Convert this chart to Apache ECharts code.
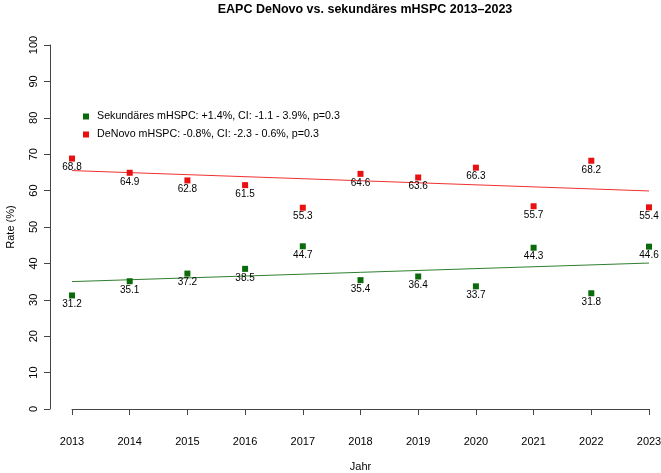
<!DOCTYPE html>
<html>
<head>
<meta charset="utf-8">
<script src="https://cdn.jsdelivr.net/npm/echarts@6/dist/echarts.min.js"></script>
<style>
html,body{margin:0;padding:0;background:#fff;}
#chart{width:661px;height:473px;}
</style>
</head>
<body>
<div id="chart"></div>
<script>
// ---- data ----
const years = [2013, 2014, 2015, 2016, 2017, 2018, 2019, 2020, 2021, 2022, 2023];
const sekundaer = [31.2, 35.1, 37.2, 38.5, 44.7, 35.4, 36.4, 33.7, 44.3, 31.8, 44.6];
const denovo = [68.8, 64.9, 62.8, 61.5, 55.3, 64.6, 63.6, 66.3, 55.7, 68.2, 55.4];
const trendYears = [2013, 2023];
const trendSekundaer = [35.0, 40.1];
const trendDenovo = [65.5, 59.9];
const yTicks = [0, 10, 20, 30, 40, 50, 60, 70, 80, 90, 100];
const nameSek = 'Sekundäres mHSPC: +1.4%, CI: -1.1 - 3.9%, p=0.3';
const nameDeN = 'DeNovo mHSPC: -0.8%, CI: -2.3 - 0.6%, p=0.3';

const green = '#0b6b0b';
const red = '#e81010';
const font = 'Liberation Sans, Arial, Helvetica, sans-serif';

const zip = (xs, ys) => xs.map((x, i) => [x, ys[i]]);

const chart = echarts.init(document.getElementById('chart'), null, {renderer: 'canvas'});
chart.setOption({
  animation: false,
  backgroundColor: '#fff',
  title: {
    text: 'EAPC DeNovo vs. sekundäres mHSPC 2013–2023',
    left: 360, textAlign: 'center', top: -2,
    textStyle: {fontFamily: font, fontSize: 12.5, fontWeight: 'bold', color: '#000'}
  },
  legend: {
    left: 78, top: 106, orient: 'vertical',
    itemWidth: 6, itemHeight: 6, itemGap: 7, itemStyle: {opacity: 1},
    icon: 'rect',
    data: [nameSek, nameDeN],
    textStyle: {fontFamily: font, fontSize: 10.7, color: '#000', padding: [0, 0, 0, 3]}
  },
  grid: {left: 72, right: 12, top: 45, bottom: 64, outerBoundsMode: 'none', containLabel: false},
  xAxis: {
    type: 'value', min: 2013, max: 2023, interval: 1,
    offset: 15,
    name: 'Jahr', nameLocation: 'middle', nameGap: 37,
    nameTextStyle: {fontFamily: font, fontSize: 11, color: '#000'},
    axisLine: {show: true, lineStyle: {color: '#444', width: 1}},
    axisTick: {show: true, length: 6, lineStyle: {color: '#444'}},
    axisLabel: {fontFamily: font, fontSize: 11, color: '#000', margin: 12, formatter: v => String(v)},
    splitLine: {show: false}
  },
  yAxis: {
    type: 'value', min: 0, max: 100, interval: 10,
    offset: 22,
    name: 'Rate (%)', nameLocation: 'middle', nameGap: 34, nameRotate: 90,
    nameTextStyle: {fontFamily: font, fontSize: 11, color: '#000'},
    axisLine: {show: true, lineStyle: {color: '#444', width: 1}},
    axisTick: {show: true, length: 6, lineStyle: {color: '#444'}},
    axisLabel: {fontFamily: font, fontSize: 11, color: '#000', margin: 11, rotate: 90,
      formatter: v => yTicks.includes(v) ? String(v) : ''},
    splitLine: {show: false}
  },
  series: [
    {
      name: nameSek, type: 'scatter', symbol: 'rect', symbolSize: 6, clip: false,
      itemStyle: {color: green, opacity: 1},
      label: {show: true, position: 'bottom', distance: 1, fontFamily: font, fontSize: 10, color: '#000',
        formatter: p => p.value[1].toFixed(1)},
      data: zip(years, sekundaer), z: 3
    },
    {
      name: nameDeN, type: 'scatter', symbol: 'rect', symbolSize: 6, clip: false,
      itemStyle: {color: red, opacity: 1},
      label: {show: true, position: 'bottom', distance: 1, fontFamily: font, fontSize: 10, color: '#000',
        formatter: p => p.value[1].toFixed(1)},
      data: zip(years, denovo), z: 3
    },
    {
      name: 'trendSek', type: 'line', showSymbol: false, symbol: 'none', clip: false,
      lineStyle: {color: '#2f7f2f', width: 1}, data: zip(trendYears, trendSekundaer), z: 2,
      silent: true
    },
    {
      name: 'trendDeN', type: 'line', showSymbol: false, symbol: 'none', clip: false,
      lineStyle: {color: '#f03030', width: 1}, data: zip(trendYears, trendDenovo), z: 2,
      silent: true
    }
  ]
});
</script>
</body>
</html>
